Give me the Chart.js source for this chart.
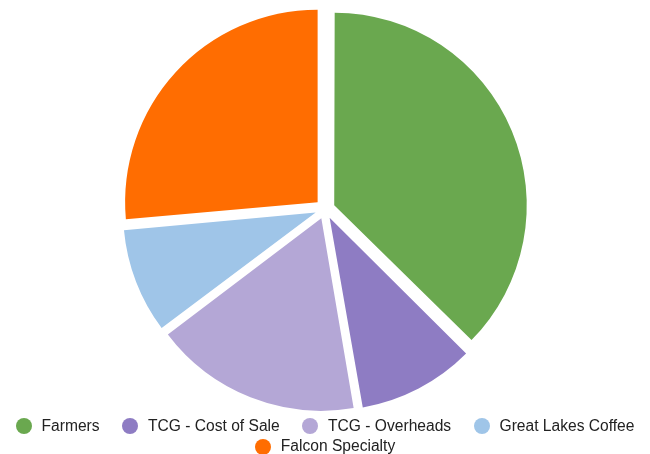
<!DOCTYPE html>
<html>
<head>
<meta charset="utf-8">
<script src="https://cdn.jsdelivr.net/npm/chart.js@4"></script>
<style>
html,body{margin:0;padding:0;background:#fff;}
#wrap{position:relative;width:650px;height:454px;overflow:hidden;}
#cv{position:absolute;left:0;top:0;width:650px;height:418px;}
#legend{position:absolute;left:0;top:415.5px;width:650px;display:flex;flex-wrap:wrap;justify-content:center;
  font-family:"Liberation Sans", Arial, sans-serif;font-size:15.6px;color:#222;}
.item{display:flex;align-items:center;height:20.8px;line-height:20.8px;margin:0 11.2px;white-space:nowrap;}
.dot{width:16px;height:16px;border-radius:50%;margin-right:10px;flex:none;}
</style>
</head>
<body>
<div id="wrap">
  <div id="cv"><canvas id="c"></canvas></div>
  <div id="legend"></div>
</div>
<script>
const categories = ["Farmers", "TCG - Cost of Sale", "TCG - Overheads", "Great Lakes Coffee", "Falcon Specialty"];
const values = [37.4, 9.9, 17.4, 8.9, 26.4];
const colors = ["#6aa84f", "#8e7cc3", "#b4a7d6", "#9fc5e8", "#ff6d01"];

// Chart.js enlarges narrow offset slices; keep every slice at the same radius
const evenRadius = {
  id: 'evenRadius',
  afterDatasetsUpdate(chart) {
    chart.getDatasetMeta(0).data.forEach(arc => {
      const t = (arc.options.offset || 0) / 4;
      const fix = 1 - Math.sin(Math.min(Math.PI, arc.circumference || 0));
      arc.outerRadius = arc.outerRadius - t * fix;
    });
  }
};

const chart = new Chart(document.getElementById('c'), {
  type: 'pie',
  data: {
    labels: categories,
    datasets: [{
      data: values,
      backgroundColor: colors,
      borderWidth: 0,
      offset: 40
    }]
  },
  options: {
    responsive: true,
    maintainAspectRatio: false,
    animation: false,
    radius: 192.5,
    layout: { padding: 0 },
    plugins: {
      legend: { display: false },
      tooltip: { enabled: false }
    }
  },
  plugins: [evenRadius]
});

// HTML legend built from the chart's own legend items
const legendEl = document.getElementById('legend');
chart.options.plugins.legend.labels.generateLabels(chart).forEach(item => {
  const d = document.createElement('div');
  d.className = 'item';
  const dot = document.createElement('span');
  dot.className = 'dot';
  dot.style.background = item.fillStyle;
  const t = document.createElement('span');
  t.textContent = item.text;
  d.appendChild(dot);
  d.appendChild(t);
  legendEl.appendChild(d);
});
</script>
</body>
</html>
